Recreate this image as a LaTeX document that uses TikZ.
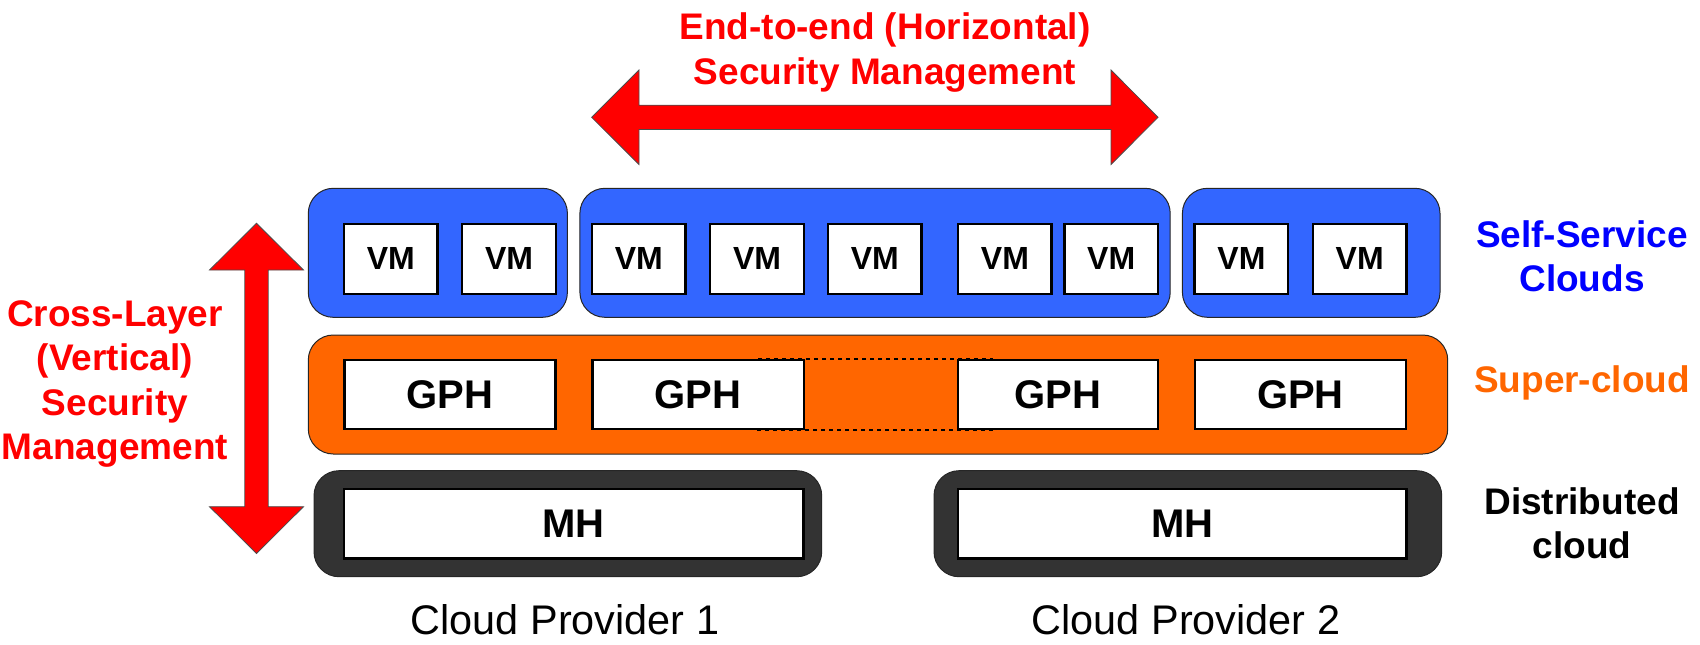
\documentclass[tikz,border=0pt]{standalone}
\usepackage{fontspec}
\setmainfont{Liberation Sans}

\definecolor{ssblue}{HTML}{3366FF}
\definecolor{scorange}{HTML}{FF6600}
\definecolor{dcgrey}{HTML}{333333}
\definecolor{sstext}{HTML}{0000FF}

\tikzset{
  layerbox/.style={draw=black!85, line width=0.5pt, rounded corners=12.5pt, inner sep=0pt},
  vmbox/.style={draw, fill=white, line width=1.25pt, minimum width=46.8pt, minimum height=35pt, inner sep=0pt, font=\bfseries\fontsize{16}{19}\selectfont},
  hostbox/.style={draw, fill=white, line width=1.25pt, minimum height=34.3pt, inner sep=0pt, font=\bfseries\fontsize{20}{24}\selectfont},
  mgmtlabel/.style={text=red, align=center, inner sep=0pt, font=\bfseries\fontsize{18.5}{22.25}\selectfont},
  layerlabel/.style={align=center, inner sep=0pt, font=\bfseries\fontsize{18.5}{21.8}\selectfont},
  providerlabel/.style={inner sep=0pt, font=\fontsize{20.7}{24}\selectfont},
  redarrow/.style={fill=red, draw=black!70, line width=0.4pt}
}

\begin{document}
\begin{tikzpicture}[x=0.5pt, y=-0.5pt]
                    \useasboundingbox (0,0) rectangle (1700,644);
                    % Management arrows:
                    \filldraw[redarrow] (591.7,117.3) -- (639,70) -- (639,105.2) -- (1111,105.2) -- (1111,70) -- (1158,117.3) -- (1111,164.5) -- (1111,129.4) -- (639,129.4) -- (639,164.5) -- cycle;
                    \filldraw[redarrow] (256.5,223.3) -- (303.5,270) -- (268.2,270) -- (268.2,506.7) -- (303.5,506.7) -- (256.5,553.5) -- (209.5,506.7) -- (244.8,506.7) -- (244.8,270) -- (209.5,270) -- cycle;
                    % Layers:
                    \node[layerbox, fill=ssblue, minimum width=129.55pt, minimum height=64.5pt] (ss1) at (437.85,252.8) {};
                    \node[layerbox, fill=ssblue, minimum width=295.15pt, minimum height=64.5pt] (ss2) at (875.05,252.8) {};
                    \node[layerbox, fill=ssblue, minimum width=128.8pt, minimum height=64.5pt] (ss3) at (1311.2,252.8) {};
                    \node[layerbox, fill=scorange, minimum width=569.7pt, minimum height=59.5pt] (sc) at (878,394.5) {};
                    \node[layerbox, fill=dcgrey, minimum width=253.85pt, minimum height=53pt] (dc1) at (567.85,523.7) {};
                    \node[layerbox, fill=dcgrey, minimum width=253.85pt, minimum height=53pt] (dc2) at (1187.85,523.7) {};
                    % Virtual machines:
                    \node[vmbox] (vm1) at (390.8,258.85) {VM};
                    \node[vmbox] (vm2) at (509,258.85) {VM};
                    \node[vmbox] (vm3) at (638.8,258.85) {VM};
                    \node[vmbox] (vm4) at (757,258.85) {VM};
                    \node[vmbox] (vm5) at (874.8,258.85) {VM};
                    \node[vmbox] (vm6) at (1004.9,258.85) {VM};
                    \node[vmbox] (vm7) at (1111.2,258.85) {VM};
                    \node[vmbox] (vm8) at (1241.4,258.85) {VM};
                    \node[vmbox] (vm9) at (1359.7,258.85) {VM};
                    % Hypervisors:
                    \draw[line width=1pt, dash pattern=on 2pt off 2pt] (756,359) rectangle (992,430);
                    \node[hostbox, minimum width=105.6pt] (gph1) at (449.85,394.5) {GPH};
                    \node[hostbox, minimum width=105.6pt] (gph2) at (698.15,394.5) {GPH};
                    \node[hostbox, minimum width=99.8pt] (gph3) at (1058,394.5) {GPH};
                    \node[hostbox, minimum width=105.6pt] (gph4) at (1300.4,394.5) {GPH};
                    \node[hostbox, minimum width=229.7pt, minimum height=34.8pt] (mh1) at (573.65,523.8) {MH};
                    \node[hostbox, minimum width=224.4pt, minimum height=34.8pt] (mh2) at (1182.3,523.8) {MH};
                    % Labels:
                    \node[mgmtlabel] (hmgmt) at (885,52.5) {End-to-end (Horizontal)\\Security Management};
                    \node[mgmtlabel] (vmgmt) at (115,384) {Cross-Layer\\(Vertical)\\Security\\Management};
                    \node[layerlabel, text=sstext] (sslabel) at (1582,256) {Self-Service\\Clouds};
                    \node[layerlabel, text=scorange] (sclabel) at (1582,383.4) {Super-cloud};
                    \node[layerlabel] (dclabel) at (1582,523) {Distributed\\cloud};
                    \node[providerlabel] (cp1) at (565,619.8) {Cloud Provider 1};
                    \node[providerlabel] (cp2) at (1186,619.8) {Cloud Provider 2};
                \end{tikzpicture}
\end{document}
